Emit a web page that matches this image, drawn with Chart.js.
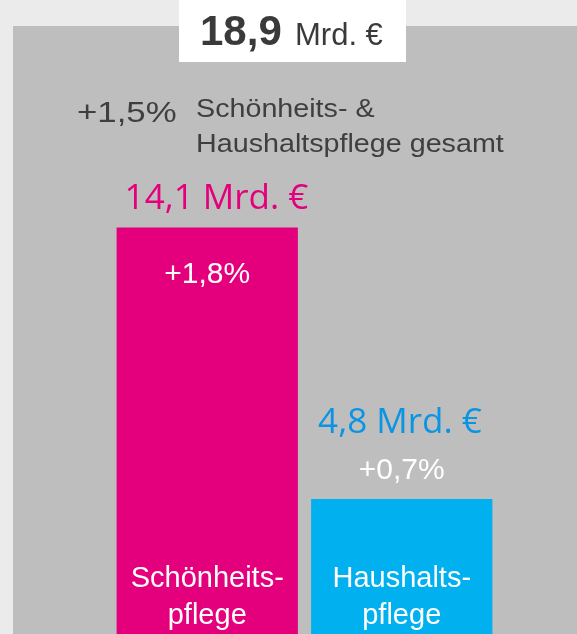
<!DOCTYPE html>
<html>
<head>
<meta charset="utf-8">
<script src="https://cdn.jsdelivr.net/npm/chart.js@4.4.1/dist/chart.umd.min.js"></script>
<style>
    html, body { margin: 0; padding: 0; overflow: hidden; background: #ebebeb; }
    #chartWrap { position: relative; width: 577px; height: 639px; }
</style>
</head>
<body>
<div id="chartWrap"><canvas id="marketChart"></canvas></div>
<script>
// data
const categories = [["Schönheits-", "pflege"], ["Haushalts-", "pflege"]];
const values = [14.1, 4.8];
const valueLabels = ["14,1 Mrd. €", "4,8 Mrd. €"];
const growthLabels = ["+1,8%", "+0,7%"];
const growthInside = [true, false];
const totalValue = "18,9";
const totalUnit = "Mrd. €";
const totalGrowth = "+1,5%";
const totalCaption = ["Schönheits- &", "Haushaltspflege gesamt"];

const barColors = ["#e4007c", "#00b0ef"];
const valueColors = ["#e4007c", "#0a95e4"];
const ARIAL = '"Liberation Sans", Arial, sans-serif';
const SEGOE = '"Open Sans", "Noto Sans", sans-serif';

const drawText = (ctx, text, x, y, font, color, align, sx) => {
    ctx.save();
    ctx.font = font;
    ctx.fillStyle = color;
    ctx.textAlign = align || "left";
    ctx.textBaseline = "alphabetic";
    ctx.translate(x, y);
    ctx.scale(sx || 1, 1);
    ctx.fillText(text, 0, 0);
    ctx.restore();
};

const panelPlugin = {
    id: "panel",
    beforeDraw: (chart) => {
        const ctx = chart.ctx;
        ctx.save();
        ctx.fillStyle = "#ebebeb";
        ctx.fillRect(0, 0, chart.width, chart.height);
        ctx.fillStyle = "#bebebe";
        ctx.fillRect(13, 26, chart.width - 13, chart.height - 26);
        ctx.fillStyle = "#ffffff";
        ctx.fillRect(179, 0, 227, 62);
        ctx.restore();

        drawText(ctx, totalValue, 200, 45, "bold 42px " + ARIAL, "#3a3a3a");
        drawText(ctx, totalUnit, 295, 45, "31px " + ARIAL, "#3a3a3a");
        drawText(ctx, totalGrowth, 77, 122, "29px " + ARIAL, "#3f3f3f", "left", 1.2);
        drawText(ctx, totalCaption[0], 196, 117, "25.5px " + ARIAL, "#3f3f3f", "left", 1.125);
        drawText(ctx, totalCaption[1], 196, 152, "25.5px " + ARIAL, "#3f3f3f", "left", 1.125);
    },
    afterDatasetsDraw: (chart) => {
        const ctx = chart.ctx;
        const meta = chart.getDatasetMeta(0);
        const bottom = chart.chartArea.bottom;
        meta.data.forEach((bar, i) => {
            const left = bar.x - bar.width / 2;
            if (growthInside[i]) {
                drawText(ctx, valueLabels[i], left + 8, bar.y - 18, "35px " + SEGOE, valueColors[i]);
                drawText(ctx, growthLabels[i], bar.x, bar.y + 56, "30px " + ARIAL, "#ffffff", "center");
            } else {
                drawText(ctx, valueLabels[i], left + 7, bar.y - 66, "35px " + SEGOE, valueColors[i]);
                drawText(ctx, growthLabels[i], bar.x, bar.y - 20, "30px " + ARIAL, "#ffffff", "center");
            }
            drawText(ctx, categories[i][0], bar.x, bottom - 52, "29px " + ARIAL, "#ffffff", "center");
            drawText(ctx, categories[i][1], bar.x, bottom - 15, "29px " + ARIAL, "#ffffff", "center");
        });
    }
};

new Chart(document.getElementById("marketChart"), {
    type: "bar",
    data: {
        labels: categories.map(c => c.join("")),
        datasets: [{
            data: values,
            backgroundColor: barColors,
            borderWidth: 0,
            barPercentage: 0.932,
            categoryPercentage: 1
        }]
    },
    options: {
        responsive: true,
        maintainAspectRatio: false,
        devicePixelRatio: 1,
        animation: false,
        layout: { padding: { left: 110, right: 78, top: 26, bottom: 0 } },
        plugins: { legend: { display: false }, tooltip: { enabled: false } },
        scales: {
            x: { display: false },
            y: { display: false, min: 0, max: 21 }
        }
    },
    plugins: [panelPlugin]
});
</script>
</body>
</html>
